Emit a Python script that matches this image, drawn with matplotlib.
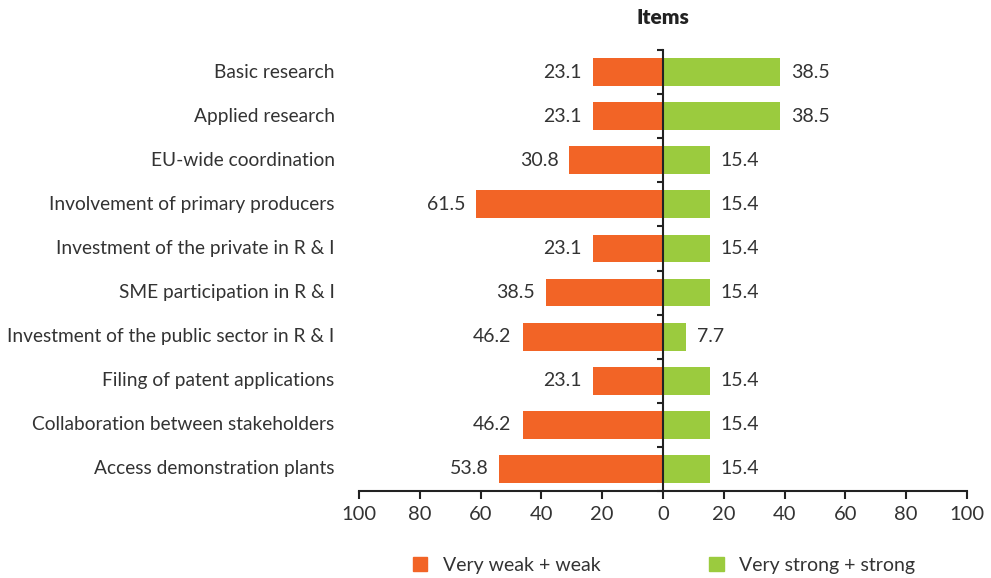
import matplotlib
matplotlib.use("Agg")
import matplotlib.pyplot as plt
from matplotlib.patches import Patch

# Data
items = ["Basic research", "Applied research", "EU-wide coordination",
         "Involvement of primary producers", "Investment of the private in R & I",
         "SME participation in R & I", "Investment of the public sector in R & I",
         "Filing of patent applications", "Collaboration between stakeholders",
         "Access demonstration plants"]
weak = [23.1, 23.1, 30.8, 61.5, 23.1, 38.5, 46.2, 23.1, 46.2, 53.8]
strong = [38.5, 38.5, 15.4, 15.4, 15.4, 15.4, 7.7, 15.4, 15.4, 15.4]
xticks = [-100, -80, -60, -40, -20, 0, 20, 40, 60, 80, 100]
xticklabels = ["100", "80", "60", "40", "20", "0", "20", "40", "60", "80", "100"]

orange = "#F26426"
green = "#9BCB3E"
txt = "#333333"
plt.rcParams['font.family'] = ['Lato', 'DejaVu Sans']

fig = plt.figure(figsize=(9.91, 5.78), dpi=100)
ax = fig.add_axes([359 / 991, 87 / 578, 608 / 991, 441 / 578])

y = list(range(len(items)))
ax.barh(y, [-w for w in weak], height=0.63, color=orange, zorder=2)
ax.barh(y, strong, height=0.63, color=green, zorder=2)

for yi, w, s in zip(y, weak, strong):
    ax.text(-w - 3.6, yi, f"{w:.1f}", ha="right", va="center", fontsize=14, color=txt)
    ax.text(s + 3.6, yi, f"{s:.1f}", ha="left", va="center", fontsize=14, color=txt)
    ax.text(-0.04, yi, items[yi], ha="right", va="center", fontsize=13.8, color=txt,
            transform=ax.get_yaxis_transform())

ax.set_xlim(-100, 100)
ax.set_ylim(len(items) - 0.5, -0.5)

for side in ["top", "right"]:
    ax.spines[side].set_visible(False)
ax.spines["left"].set_position(("data", 0))
ax.spines["left"].set_zorder(3)
for side in ["left", "bottom"]:
    ax.spines[side].set_linewidth(1.5)
    ax.spines[side].set_color("#222222")

ax.set_yticks([i - 0.5 for i in range(len(items) + 1)])
ax.set_yticklabels([])
ax.tick_params(axis="y", direction="out", length=4, width=1.5, color="#222222")

ax.set_xticks(xticks)
ax.set_xticklabels(xticklabels)
ax.tick_params(axis="x", direction="out", length=6, width=1.5, color="#222222",
               labelsize=14.5, labelcolor=txt, pad=5)

fig.text(663 / 991, 1 - 18 / 578, "Items", ha="center", va="center",
         fontsize=15, fontweight="heavy", color="#222222")

handles = [Patch(color=orange), Patch(color=green)]
fig.legend(handles, ["Very weak + weak", "Very strong + strong"], ncol=2,
           loc="center", bbox_to_anchor=(664 / 991, 1 - 565 / 578), frameon=False,
           fontsize=14, handlelength=0.75, handleheight=0.75, handletextpad=0.8,
           columnspacing=5.6, labelcolor=txt)

fig.savefig("out.png", dpi=100)
